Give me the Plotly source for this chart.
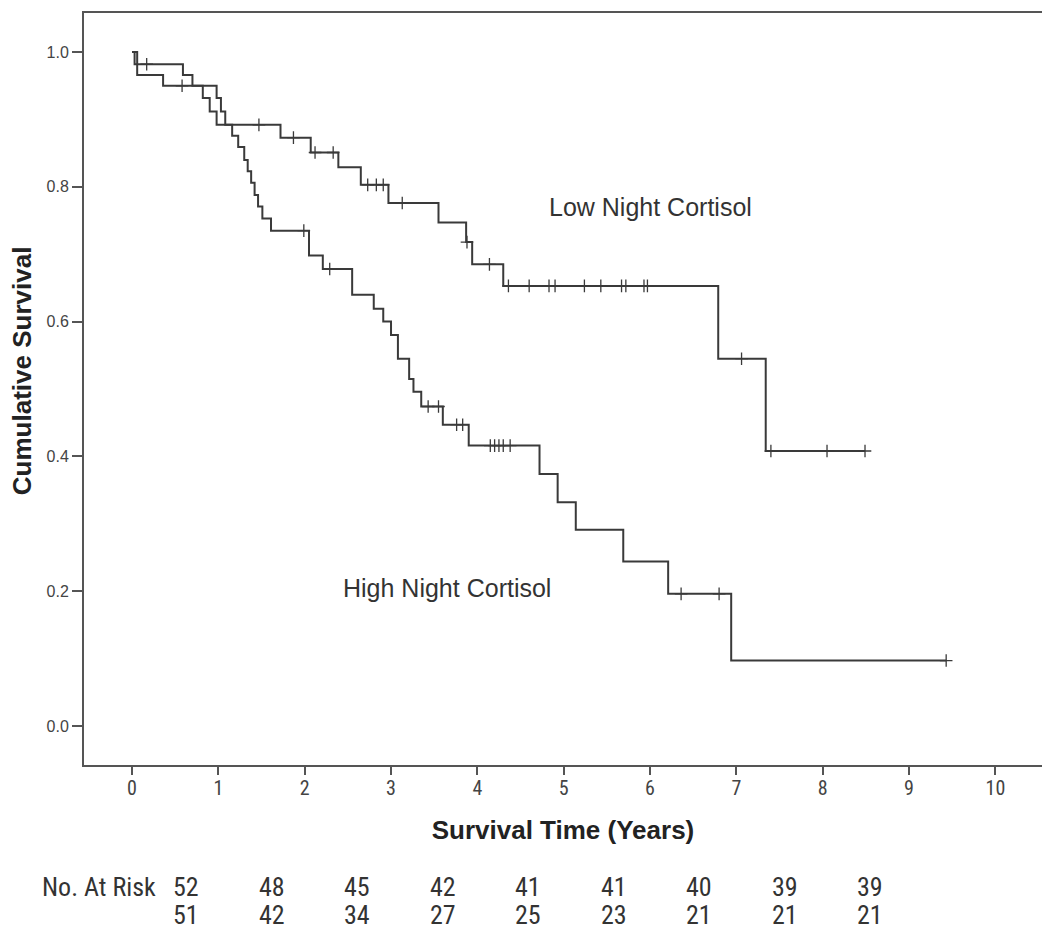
import plotly.graph_objects as go

# ---------------- data ----------------
low_event_times = [0.03, 0.59, 0.70, 0.82, 0.90, 0.98, 1.72, 2.07, 2.39, 2.65, 2.97,
                   3.55, 3.87, 3.94, 4.30, 6.79, 7.34]
low_event_surv = [0.982, 0.966, 0.950, 0.932, 0.912, 0.892, 0.873, 0.851, 0.829, 0.803,
                  0.776, 0.747, 0.718, 0.685, 0.653, 0.545, 0.408]
low_censor_times = [0.17, 1.47, 1.87, 2.12, 2.33, 2.73, 2.83, 2.91, 3.13, 3.88, 4.14,
                    4.36, 4.60, 4.83, 4.90, 5.24, 5.43, 5.67, 5.72, 5.93, 5.97, 7.06,
                    7.40, 8.05, 8.49]

high_event_times = [0.06, 0.36, 0.98, 1.03, 1.08, 1.16, 1.23, 1.30, 1.34, 1.38, 1.42,
                    1.46, 1.51, 1.61, 2.05, 2.21, 2.55, 2.80, 2.91, 3.00, 3.08, 3.21,
                    3.26, 3.35, 3.60, 3.90, 4.72, 4.93, 5.14, 5.69, 6.21, 6.94]
high_event_surv = [0.966, 0.950, 0.932, 0.912, 0.892, 0.876, 0.859, 0.840, 0.823, 0.806,
                   0.788, 0.771, 0.753, 0.735, 0.698, 0.678, 0.640, 0.619, 0.600, 0.580,
                   0.545, 0.515, 0.496, 0.474, 0.447, 0.416, 0.374, 0.332, 0.291, 0.244,
                   0.196, 0.097]
high_censor_times = [0.58, 1.99, 2.29, 3.43, 3.55, 3.76, 3.83, 4.15, 4.20, 4.25, 4.30,
                     4.38, 6.36, 6.80, 9.43]

risk_years = [0, 1, 2, 3, 4, 5, 6, 7, 8]
risk_low = [52, 48, 45, 42, 41, 41, 40, 39, 39]
risk_high = [51, 42, 34, 27, 25, 23, 21, 21, 21]

x_ticks = list(range(0, 11))
y_ticks = [0.0, 0.2, 0.4, 0.6, 0.8, 1.0]

LINE = "#3a3a3a"
TEXT = "#333333"
SANS = "Liberation Sans, Arial, sans-serif"
NARROW = "Liberation Sans Narrow, Arial Narrow, Roboto Condensed, Liberation Sans"


def surv_at(t, times, surv):
    s = 1.0
    for ti, si in zip(times, surv):
        if ti <= t:
            s = si
    return s


def step_xy(times, surv, censor):
    end = max(times[-1], censor[-1])
    xs = [0.0] + list(times) + [end]
    ys = [1.0] + list(surv) + [surv[-1]]
    return xs, ys


fig = go.Figure()
for times, surv, cens in [(low_event_times, low_event_surv, low_censor_times),
                          (high_event_times, high_event_surv, high_censor_times)]:
    xs, ys = step_xy(times, surv, cens)
    fig.add_trace(go.Scatter(x=xs, y=ys, mode="lines", line=dict(color=LINE, width=2, shape="hv"),
                             showlegend=False, hoverinfo="skip"))
    cy = [surv_at(t, times, surv) for t in cens]
    fig.add_trace(go.Scatter(x=cens, y=cy, mode="markers",
                             marker=dict(symbol="cross-thin", size=9,
                                         line=dict(color=LINE, width=1.3)),
                             showlegend=False, hoverinfo="skip"))

ann = []
ann.append(dict(x=6.0, y=0.77, xref="x", yref="y", text="Low Night Cortisol", showarrow=False,
                font=dict(family=SANS, size=25, color=TEXT)))
ann.append(dict(x=3.65, y=0.205, xref="x", yref="y", text="High Night Cortisol", showarrow=False,
                font=dict(family=SANS, size=25, color=TEXT)))
ann.append(dict(x=-0.0645, y=0.524, xref="paper", yref="paper", text="<b>Cumulative Survival</b>",
                showarrow=False, textangle=-90, xanchor="center", yanchor="middle",
                font=dict(family=SANS, size=26, color="#222")))

TABLE_FONT = dict(family=NARROW, size=26, color=TEXT)
row1_y, row2_y = -0.162, -0.199
ann.append(dict(x=-0.046, y=row1_y, xref="paper", yref="paper", text="No. At Risk",
                showarrow=False, xanchor="left", yanchor="middle", font=TABLE_FONT))
for yr, a, b in zip(risk_years, risk_low, risk_high):
    xpos = 0.63 + 0.99 * yr
    ann.append(dict(x=xpos, y=row1_y, xref="x", yref="paper", text=str(a), showarrow=False,
                    yanchor="middle", font=TABLE_FONT))
    ann.append(dict(x=xpos, y=row2_y, xref="x", yref="paper", text=str(b), showarrow=False,
                    yanchor="middle", font=TABLE_FONT))

fig.update_layout(
    width=1050, height=940,
    margin=dict(l=76, r=16, t=3, b=183),
    paper_bgcolor="white", plot_bgcolor="white",
    annotations=ann,
    xaxis=dict(range=[-0.556, 10.54], tickvals=x_ticks, ticks="outside", ticklen=8,
               tickcolor="#555", tickwidth=1.5, showgrid=False, zeroline=False,
               showline=True, linecolor="#555", linewidth=2, mirror=True,
               ticklabelstandoff=-4,
               tickfont=dict(family=NARROW, size=20, color="#444"),
               title=dict(text="<b>Survival Time (Years)</b>", standoff=22,
                          font=dict(family=SANS, size=26, color="#222"))),
    yaxis=dict(range=[-0.058, 1.058], tickvals=y_ticks, tickformat=".1f", ticks="outside",
               ticklen=10, tickcolor="#555", tickwidth=1.5, showgrid=False, zeroline=False,
               showline=True, linecolor="#555", linewidth=2, mirror=True,
               tickfont=dict(family=SANS, size=16, color="#444")),
)

fig.write_html("out.html")
